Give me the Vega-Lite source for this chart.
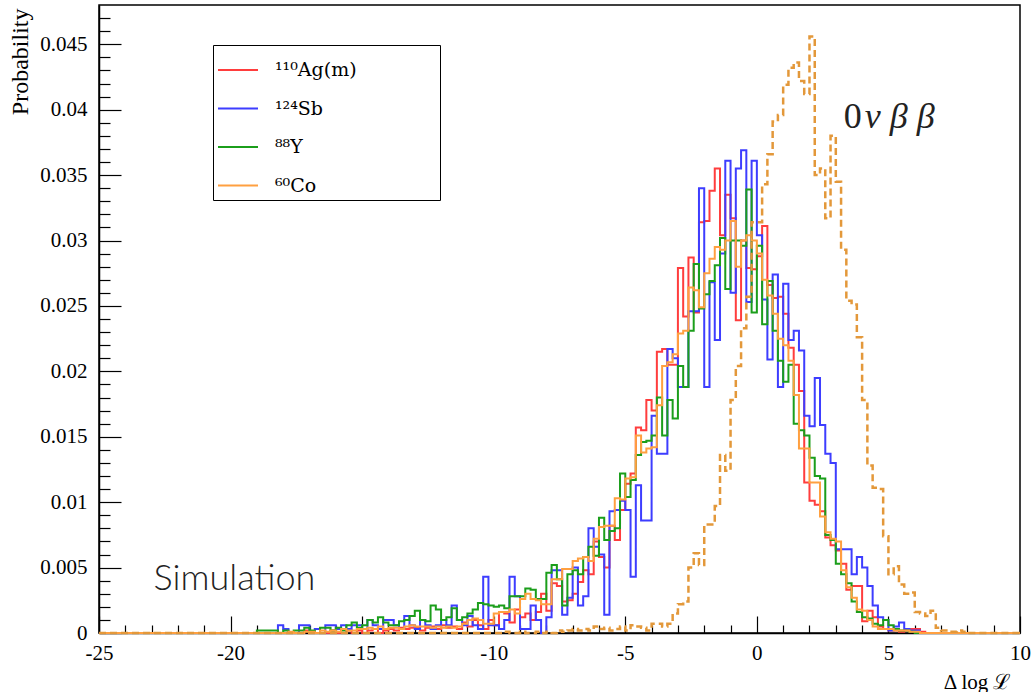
{
  "$schema": "https://vega.github.io/schema/vega-lite/v6.json",
  "width": 921,
  "height": 628,
  "autosize": "none",
  "padding": {"left": 99, "top": 5, "right": 13, "bottom": 59},
  "background": "white",
  "config": {
    "view": {"stroke": "black", "strokeWidth": 1.5},
    "axis": {"domainColor": "black", "tickColor": "black", "labelColor": "black", "titleColor": "black", "labelFont": "Liberation Serif", "titleFont": "Liberation Serif", "titleFontWeight": "normal", "grid": false, "domainWidth": 1.5, "tickWidth": 1.2, "labelOverlap": false, "labelFlush": false}
  },
  "datasets": {
    "h": [
      {"x":-25,"ag":0,"sb":0,"yt":0,"co":0,"nu":0},
      {"x":-19.0,"ag":0,"sb":0,"yt":0.0002,"co":0,"nu":0},
      {"x":-18.8,"ag":0,"sb":0,"yt":0.0002,"co":0,"nu":0},
      {"x":-18.6,"ag":0,"sb":0,"yt":0.0002,"co":0,"nu":0},
      {"x":-18.4,"ag":0,"sb":0,"yt":0.0002,"co":0,"nu":0},
      {"x":-18.2,"ag":0,"sb":0.0006,"yt":0,"co":0,"nu":0},
      {"x":-18.0,"ag":0,"sb":0.0003,"yt":0.0002,"co":0,"nu":0},
      {"x":-17.8,"ag":0,"sb":0,"yt":0,"co":0.0001,"nu":0},
      {"x":-17.6,"ag":0,"sb":0,"yt":0.0002,"co":0,"nu":0},
      {"x":-17.4,"ag":0,"sb":0.0006,"yt":0.0002,"co":0,"nu":0},
      {"x":-17.2,"ag":0.0002,"sb":0.0006,"yt":0.0004,"co":0.0001,"nu":0},
      {"x":-17.0,"ag":0,"sb":0,"yt":0.0002,"co":0.0001,"nu":0},
      {"x":-16.8,"ag":0,"sb":0.0003,"yt":0,"co":0,"nu":0},
      {"x":-16.6,"ag":0,"sb":0,"yt":0.0004,"co":0.0002,"nu":0},
      {"x":-16.4,"ag":0,"sb":0.0006,"yt":0.0004,"co":0.0001,"nu":0},
      {"x":-16.2,"ag":0.0002,"sb":0.0006,"yt":0.0002,"co":0.0002,"nu":0},
      {"x":-16.0,"ag":0,"sb":0.0003,"yt":0.0004,"co":0.0001,"nu":0},
      {"x":-15.8,"ag":0,"sb":0.0006,"yt":0.0002,"co":0.0003,"nu":0},
      {"x":-15.6,"ag":0.0002,"sb":0.0003,"yt":0.0006,"co":0.0002,"nu":0},
      {"x":-15.4,"ag":0,"sb":0.0006,"yt":0.0008,"co":0.0002,"nu":0},
      {"x":-15.2,"ag":0.0002,"sb":0.0006,"yt":0.0004,"co":0.0003,"nu":0},
      {"x":-15.0,"ag":0,"sb":0.0003,"yt":0.0006,"co":0.0003,"nu":0},
      {"x":-14.8,"ag":0.0002,"sb":0.001,"yt":0.001,"co":0.0004,"nu":0},
      {"x":-14.6,"ag":0.0003,"sb":0.0006,"yt":0.0008,"co":0.0003,"nu":0},
      {"x":-14.4,"ag":0,"sb":0.0003,"yt":0.0012,"co":0.0005,"nu":0},
      {"x":-14.2,"ag":0.0002,"sb":0.001,"yt":0.0008,"co":0.0003,"nu":0},
      {"x":-14.0,"ag":0.0003,"sb":0.001,"yt":0.0006,"co":0.0004,"nu":0},
      {"x":-13.8,"ag":0.0002,"sb":0.0006,"yt":0.0006,"co":0.0004,"nu":0},
      {"x":-13.6,"ag":0.0004,"sb":0.0003,"yt":0.0009,"co":0.0003,"nu":0},
      {"x":-13.4,"ag":0.0003,"sb":0.0013,"yt":0.001,"co":0.0005,"nu":0},
      {"x":-13.2,"ag":0.0004,"sb":0.0006,"yt":0.0013,"co":0.0006,"nu":0},
      {"x":-13.0,"ag":0.0004,"sb":0.0003,"yt":0.0017,"co":0.0005,"nu":0},
      {"x":-12.8,"ag":0.0002,"sb":0.001,"yt":0.001,"co":0.0005,"nu":0},
      {"x":-12.6,"ag":0.0004,"sb":0.0006,"yt":0.0009,"co":0.0005,"nu":0},
      {"x":-12.4,"ag":0.0005,"sb":0.0003,"yt":0.0021,"co":0.0004,"nu":0},
      {"x":-12.2,"ag":0.0003,"sb":0.0006,"yt":0.0018,"co":0.0005,"nu":0},
      {"x":-12.0,"ag":0.0006,"sb":0.001,"yt":0.001,"co":0.0004,"nu":0},
      {"x":-11.8,"ag":0.0004,"sb":0.0006,"yt":0.0012,"co":0.0005,"nu":0},
      {"x":-11.6,"ag":0.0005,"sb":0.0021,"yt":0.0019,"co":0.0004,"nu":0},
      {"x":-11.4,"ag":0.0003,"sb":0.001,"yt":0.001,"co":0.0005,"nu":0},
      {"x":-11.2,"ag":0.0008,"sb":0.0006,"yt":0.0012,"co":0.0007,"nu":0},
      {"x":-11.0,"ag":0.0005,"sb":0.0013,"yt":0.0015,"co":0.001,"nu":0},
      {"x":-10.8,"ag":0.001,"sb":0.0006,"yt":0.0018,"co":0.0011,"nu":0},
      {"x":-10.6,"ag":0.0006,"sb":0.0003,"yt":0.0023,"co":0.001,"nu":0},
      {"x":-10.4,"ag":0.0003,"sb":0.0043,"yt":0.0022,"co":0.0007,"nu":0},
      {"x":-10.2,"ag":0.001,"sb":0.0006,"yt":0.0021,"co":0.0007,"nu":0},
      {"x":-10.0,"ag":0.0006,"sb":0.0006,"yt":0.002,"co":0.0015,"nu":0},
      {"x":-9.8,"ag":0.0016,"sb":0.0003,"yt":0.0021,"co":0.0016,"nu":0},
      {"x":-9.6,"ag":0.0015,"sb":0.001,"yt":0.0019,"co":0.0016,"nu":0.0001},
      {"x":-9.4,"ag":0.0008,"sb":0.0043,"yt":0.0028,"co":0.0018,"nu":0},
      {"x":-9.2,"ag":0.0018,"sb":0.0028,"yt":0.0028,"co":0.0015,"nu":0},
      {"x":-9.0,"ag":0.0012,"sb":0.0003,"yt":0.0028,"co":0.0026,"nu":0.0001},
      {"x":-8.8,"ag":0.0015,"sb":0.0003,"yt":0.0034,"co":0.003,"nu":0},
      {"x":-8.6,"ag":0.001,"sb":0.0021,"yt":0.0033,"co":0.0026,"nu":0},
      {"x":-8.4,"ag":0.0016,"sb":0.001,"yt":0.0026,"co":0.0025,"nu":0.0001},
      {"x":-8.2,"ag":0.003,"sb":0,"yt":0.0026,"co":0.0022,"nu":0},
      {"x":-8.0,"ag":0.0017,"sb":0.0012,"yt":0.0046,"co":0.0022,"nu":0.0001},
      {"x":-7.8,"ag":0.0038,"sb":0.0048,"yt":0.0052,"co":0.0041,"nu":0},
      {"x":-7.6,"ag":0.0036,"sb":0.0048,"yt":0.0041,"co":0.0041,"nu":0.0002},
      {"x":-7.4,"ag":0.0024,"sb":0.0014,"yt":0.0021,"co":0.0049,"nu":0.0001},
      {"x":-7.2,"ag":0.0025,"sb":0.0027,"yt":0.0045,"co":0.0049,"nu":0.0002},
      {"x":-7.0,"ag":0.003,"sb":0.005,"yt":0.0048,"co":0.0055,"nu":0.0003},
      {"x":-6.8,"ag":0.0039,"sb":0.0021,"yt":0.0045,"co":0.0057,"nu":0.0002},
      {"x":-6.6,"ag":0.0048,"sb":0.0028,"yt":0.0058,"co":0.0058,"nu":0.0003},
      {"x":-6.4,"ag":0.0045,"sb":0.008,"yt":0.0066,"co":0.0055,"nu":0.0002},
      {"x":-6.2,"ag":0.007,"sb":0.0066,"yt":0.0059,"co":0.0072,"nu":0.0005},
      {"x":-6.0,"ag":0.0058,"sb":0.006,"yt":0.0088,"co":0.0081,"nu":0.0003},
      {"x":-5.8,"ag":0.005,"sb":0.0014,"yt":0.0071,"co":0.0082,"nu":0.0004},
      {"x":-5.6,"ag":0.0082,"sb":0.0093,"yt":0.0078,"co":0.0082,"nu":0.0002},
      {"x":-5.4,"ag":0.0071,"sb":0.0094,"yt":0.008,"co":0.0103,"nu":0.0003},
      {"x":-5.2,"ag":0.0094,"sb":0.0101,"yt":0.0122,"co":0.0102,"nu":0.0005},
      {"x":-5.0,"ag":0.0114,"sb":0.0094,"yt":0.0104,"co":0.0118,"nu":0.0002},
      {"x":-4.8,"ag":0.0122,"sb":0.0043,"yt":0.0117,"co":0.0119,"nu":0.0006},
      {"x":-4.6,"ag":0.0157,"sb":0.0113,"yt":0.0136,"co":0.0151,"nu":0.0005},
      {"x":-4.4,"ag":0.0155,"sb":0.0086,"yt":0.0146,"co":0.0138,"nu":0.0004},
      {"x":-4.2,"ag":0.0178,"sb":0.0086,"yt":0.0147,"co":0.0141,"nu":0.0002},
      {"x":-4.0,"ag":0.017,"sb":0.0166,"yt":0.0151,"co":0.0142,"nu":0.0007},
      {"x":-3.8,"ag":0.0215,"sb":0.0137,"yt":0.018,"co":0.0174,"nu":0.0007},
      {"x":-3.6,"ag":0.0217,"sb":0.0137,"yt":0.0151,"co":0.0204,"nu":0.0005},
      {"x":-3.4,"ag":0.0205,"sb":0.0217,"yt":0.0178,"co":0.0207,"nu":0.0007},
      {"x":-3.2,"ag":0.0205,"sb":0.021,"yt":0.0164,"co":0.0213,"nu":0.0015},
      {"x":-3.0,"ag":0.0279,"sb":0.0188,"yt":0.0204,"co":0.0229,"nu":0.0022},
      {"x":-2.8,"ag":0.0242,"sb":0.0188,"yt":0.0188,"co":0.0231,"nu":0.0024},
      {"x":-2.6,"ag":0.0287,"sb":0.0246,"yt":0.0231,"co":0.0264,"nu":0.005},
      {"x":-2.4,"ag":0.0245,"sb":0.0246,"yt":0.0282,"co":0.0262,"nu":0.0061},
      {"x":-2.2,"ag":0.0314,"sb":0.034,"yt":0.0248,"co":0.0249,"nu":0.0052},
      {"x":-2.0,"ag":0.0315,"sb":0.0188,"yt":0.0259,"co":0.0275,"nu":0.0083},
      {"x":-1.8,"ag":0.0338,"sb":0.0268,"yt":0.0269,"co":0.0286,"nu":0.0083},
      {"x":-1.6,"ag":0.0355,"sb":0.0224,"yt":0.0281,"co":0.0295,"nu":0.0097},
      {"x":-1.4,"ag":0.0304,"sb":0.029,"yt":0.0302,"co":0.0293,"nu":0.0136},
      {"x":-1.2,"ag":0.0335,"sb":0.0361,"yt":0.0263,"co":0.03,"nu":0.0124},
      {"x":-1.0,"ag":0.0317,"sb":0.026,"yt":0.03,"co":0.0315,"nu":0.0178},
      {"x":-0.8,"ag":0.0239,"sb":0.0355,"yt":0.03,"co":0.028,"nu":0.0204},
      {"x":-0.6,"ag":0.03,"sb":0.0369,"yt":0.0296,"co":0.03,"nu":0.0233},
      {"x":-0.4,"ag":0.0279,"sb":0.0253,"yt":0.0339,"co":0.0304,"nu":0.0257},
      {"x":-0.2,"ag":0.0278,"sb":0.0361,"yt":0.0245,"co":0.03,"nu":0.0314},
      {"x":0.0,"ag":0.0288,"sb":0.0304,"yt":0.0296,"co":0.029,"nu":0.0314},
      {"x":0.2,"ag":0.0311,"sb":0.0255,"yt":0.0236,"co":0.027,"nu":0.0343},
      {"x":0.4,"ag":0.0266,"sb":0.0209,"yt":0.0269,"co":0.0258,"nu":0.0366},
      {"x":0.6,"ag":0.0256,"sb":0.0274,"yt":0.0231,"co":0.0244,"nu":0.0391},
      {"x":0.8,"ag":0.0257,"sb":0.0188,"yt":0.0208,"co":0.0225,"nu":0.0396},
      {"x":1.0,"ag":0.0244,"sb":0.0267,"yt":0.0192,"co":0.022,"nu":0.0419},
      {"x":1.2,"ag":0.0218,"sb":0.0224,"yt":0.0205,"co":0.0208,"nu":0.0432},
      {"x":1.4,"ag":0.0205,"sb":0.0231,"yt":0.016,"co":0.0182,"nu":0.0436},
      {"x":1.6,"ag":0.0185,"sb":0.0216,"yt":0.0155,"co":0.0141,"nu":0.0422},
      {"x":1.8,"ag":0.0115,"sb":0.0166,"yt":0.0151,"co":0.0141,"nu":0.0412},
      {"x":2.0,"ag":0.0101,"sb":0.0158,"yt":0.0134,"co":0.0115,"nu":0.0456},
      {"x":2.2,"ag":0.0098,"sb":0.0195,"yt":0.012,"co":0.0115,"nu":0.035},
      {"x":2.4,"ag":0.0093,"sb":0.0159,"yt":0.0118,"co":0.0089,"nu":0.0355},
      {"x":2.6,"ag":0.0073,"sb":0.0137,"yt":0.0075,"co":0.0077,"nu":0.0317},
      {"x":2.8,"ag":0.0067,"sb":0.013,"yt":0.0071,"co":0.0072,"nu":0.038},
      {"x":3.0,"ag":0.0063,"sb":0.0064,"yt":0.0053,"co":0.007,"nu":0.0345},
      {"x":3.2,"ag":0.0053,"sb":0.0064,"yt":0.0045,"co":0.0048,"nu":0.0293},
      {"x":3.4,"ag":0.0033,"sb":0.0064,"yt":0.0038,"co":0.0035,"nu":0.0254},
      {"x":3.6,"ag":0.0036,"sb":0.0045,"yt":0.0024,"co":0.0027,"nu":0.0251},
      {"x":3.8,"ag":0.0036,"sb":0.0058,"yt":0.0016,"co":0.0018,"nu":0.0226},
      {"x":4.0,"ag":0.0009,"sb":0.005,"yt":0.0012,"co":0.0017,"nu":0.0178},
      {"x":4.2,"ag":0.0017,"sb":0.0036,"yt":0.0011,"co":0.001,"nu":0.0128},
      {"x":4.4,"ag":0.0012,"sb":0.0021,"yt":0.0007,"co":0.0005,"nu":0.0111},
      {"x":4.6,"ag":0.0005,"sb":0.0012,"yt":0.0006,"co":0.0003,"nu":0.011},
      {"x":4.8,"ag":0.0003,"sb":0.001,"yt":0.001,"co":0.0003,"nu":0.0074},
      {"x":5.0,"ag":0.0002,"sb":0.0002,"yt":0.0006,"co":0.0003,"nu":0.0045},
      {"x":5.2,"ag":0.0002,"sb":0.0005,"yt":0.0003,"co":0.0002,"nu":0.0051},
      {"x":5.4,"ag":0.0001,"sb":0.0008,"yt":0.0002,"co":0.0002,"nu":0.0037},
      {"x":5.6,"ag":0.0002,"sb":0.0003,"yt":0.0002,"co":0.0002,"nu":0.003},
      {"x":5.8,"ag":0.0003,"sb":0.0002,"yt":0.0001,"co":0.0001,"nu":0.0031},
      {"x":6.0,"ag":0.0003,"sb":0.0002,"yt":0,"co":0.0001,"nu":0.0016},
      {"x":6.2,"ag":0.0001,"sb":0,"yt":0,"co":0,"nu":0.0015},
      {"x":6.4,"ag":0,"sb":0,"yt":0,"co":0,"nu":0.0013},
      {"x":6.6,"ag":0,"sb":0,"yt":0,"co":0,"nu":0.0017},
      {"x":6.8,"ag":0,"sb":0,"yt":0,"co":0,"nu":0.0004},
      {"x":7.0,"ag":0,"sb":0,"yt":0,"co":0,"nu":0.0002},
      {"x":7.2,"ag":0,"sb":0,"yt":0,"co":0,"nu":0.0002},
      {"x":7.4,"ag":0,"sb":0,"yt":0,"co":0,"nu":0.0001},
      {"x":7.6,"ag":0,"sb":0,"yt":0,"co":0,"nu":0.0002},
      {"x":7.8,"ag":0,"sb":0,"yt":0,"co":0,"nu":0.0001},
      {"x":8.0,"ag":0,"sb":0,"yt":0,"co":0,"nu":0},
      {"x":10,"ag":0,"sb":0,"yt":0,"co":0,"nu":0}
    ],
    "ann": [
      {"t": "Simulation", "x": -22.93, "p": 0.0033}
    ],
    "ann2": [
      {"t": "0", "x": 3.3, "p": 0.0386}
    ],
    "ann3": [
      {"t": "ν β β", "x": 4.1, "p": 0.0386}
    ]
  },
  "encoding": {
    "x": {
      "field": "x", "type": "quantitative",
      "scale": {"domain": [-25, 10], "nice": false, "zero": false},
      "axis": {
        "values": [-25,-24,-23,-22,-21,-20,-19,-18,-17,-16,-15,-14,-13,-12,-11,-10,-9,-8,-7,-6,-5,-4,-3,-2,-1,0,1,2,3,4,5,6,7,8,9,10],
        "labelExpr": "datum.value % 5 === 0 ? '' + datum.value : ''",
        "tickSize": {"condition": {"test": "datum.value % 5 === 0", "value": -17}, "value": -8},
        "labelOverlap": false,
        "labelFlush": false,
        "labelFontSize": 21,
        "labelPadding": 26,
        "title": "Δ log ℒ",
        "titleFontSize": 21,
        "titleX": 912,
        "titleY": 55,
        "titleAlign": "right",
        "titleAnchor": "end",
        "titleBaseline": "alphabetic"
      }
    },
    "y": {
      "field": "p", "type": "quantitative",
      "scale": {"domain": [0, 0.048], "nice": false},
      "axis": {
        "values": [0,0.001,0.002,0.003,0.004,0.005,0.006,0.007,0.008,0.009,0.01,0.011,0.012,0.013,0.014,0.015,0.016,0.017,0.018,0.019,0.02,0.021,0.022,0.023,0.024,0.025,0.026,0.027,0.028,0.029,0.03,0.031,0.032,0.033,0.034,0.035,0.036,0.037,0.038,0.039,0.04,0.041,0.042,0.043,0.044,0.045,0.046,0.047],
        "labelExpr": "round(datum.value * 1000) % 5 === 0 ? '' + (round(datum.value * 1000) / 1000) : ''",
        "tickSize": {"condition": {"test": "round(datum.value * 1000) % 5 === 0", "value": -22}, "value": -11},
        "labelOverlap": false,
        "labelFlush": false,
        "labelFontSize": 21,
        "labelPadding": 34,
        "title": "Probability",
        "titleFontSize": 24,
        "titleAngle": -90,
        "titleX": -79,
        "titleY": 3,
        "titleAlign": "right",
        "titleBaseline": "middle"
      }
    }
  },
  "layer": [
    {
      "data": {"name": "h"},
      "transform": [{"fold": ["ag", "sb", "yt", "co"], "as": ["s", "p"]}],
      "mark": {"type": "line", "interpolate": "step-after", "strokeWidth": 2},
      "encoding": {
        "color": {
          "field": "s", "type": "nominal",
          "scale": {"domain": ["ag", "sb", "yt", "co"], "range": ["#ff3d3d", "#3d3dff", "#1b9e1b", "#ffa040"]},
          "legend": {
            "orient": "none",
            "legendX": 114,
            "legendY": 40,
            "title": null,
            "symbolType": "stroke",
            "symbolSize": 1600,
            "symbolStrokeWidth": 2,
            "labelFont": "DejaVu Serif",
            "labelFontSize": 19,
            "labelColor": "black",
            "labelOffset": 16,
            "labelLimit": 400,
            "padding": 4,
            "rowPadding": 7.5,
            "strokeColor": "black",
            "fillColor": "white",
            "labelExpr": "datum.label === 'ag' ? '¹¹⁰Ag(m)\u00a0\u00a0\u00a0\u00a0\u00a0\u00a0\u00a0\u00a0\u00a0\u00a0\u00a0\u00a0\u00a0\u200b' : datum.label === 'sb' ? '¹²⁴Sb' : datum.label === 'yt' ? '⁸⁸Y' : '⁶⁰Co'"
          }
        }
      }
    },
    {
      "data": {"name": "h"},
      "transform": [{"fold": ["nu"], "as": ["s", "p"]}],
      "mark": {"type": "line", "interpolate": "step-after", "strokeWidth": 2.5, "strokeDash": [7, 4], "color": "#e3983a"}
    },
    {
      "data": {"name": "ann"},
      "mark": {"type": "text", "font": "Lato", "fontWeight": 300, "fontSize": 36, "align": "left", "baseline": "alphabetic", "color": "#222222"},
      "encoding": {"text": {"field": "t"}}
    },
    {
      "data": {"name": "ann2"},
      "mark": {"type": "text", "font": "Liberation Serif", "fontSize": 36, "align": "left", "baseline": "alphabetic", "color": "#222222"},
      "encoding": {"text": {"field": "t"}}
    },
    {
      "data": {"name": "ann3"},
      "mark": {"type": "text", "font": "Liberation Serif", "fontStyle": "italic", "fontSize": 36, "align": "left", "baseline": "alphabetic", "color": "#222222"},
      "encoding": {"text": {"field": "t"}}
    }
  ]
}
